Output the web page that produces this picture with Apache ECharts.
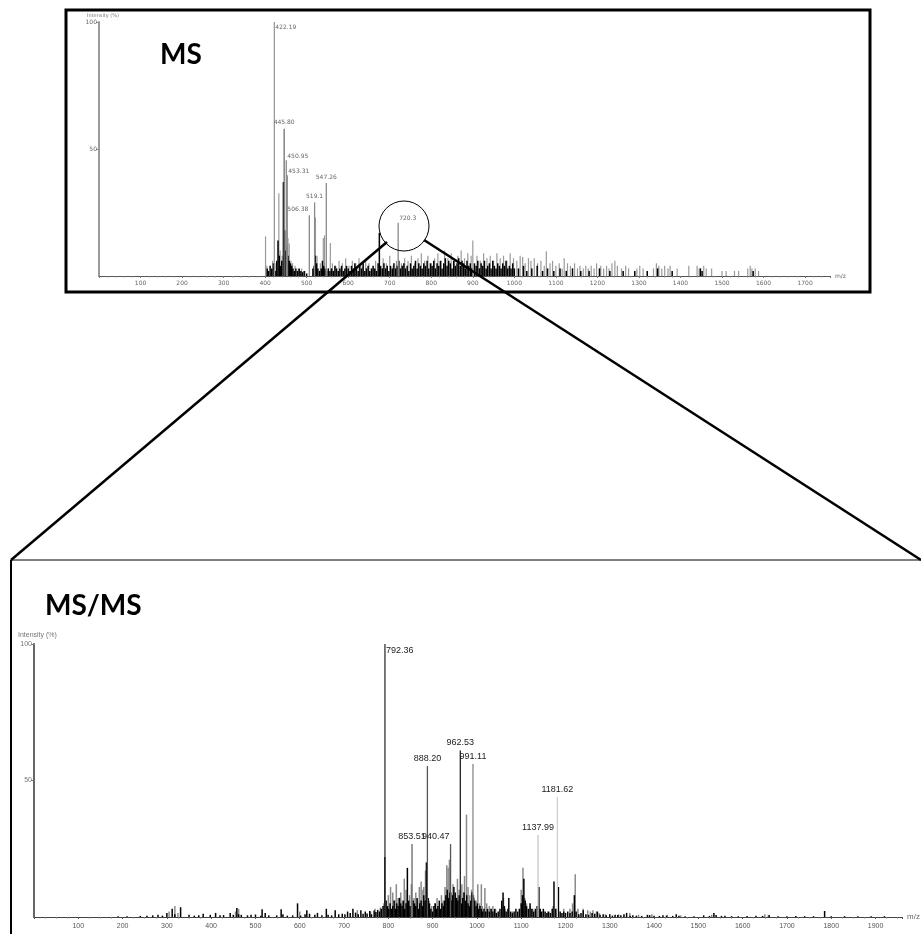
<!DOCTYPE html>
<html><head><meta charset="utf-8">
<script src="https://cdn.jsdelivr.net/npm/echarts@6/dist/echarts.min.js"></script>
<style>html,body{margin:0;padding:0;background:#fff}#c{width:921px;height:934px}</style>
</head><body><div id="c"></div>
<script>
// ---------- MS (top) ----------
const msTicks = [100,200,300,400,500,600,700,800,900,1000,1100,1200,1300,1400,1500,1600,1700];
const msLabelled = [[422.19,100,'422.19'],[445.80,58,'445.80'],[450.95,45.6,'450.95'],[453.31,39.7,'453.31'],[506.38,23.9,'506.38'],[519.1,29,'519.1'],[547.26,36.6,'547.26'],[720.3,21,'720.3']];
const msGrey = [[401,15.6],[404,4],[418,6],[426,5],[433,32.6],[436,10],[441,8],[455,15],[458,12.8],[462,6],[466,5],[472,4],[480,3],[488,3],[496,2],[521,23],[525,8],[533,5],[540,15],[543,16],[557,13],[562,5],[570,4],[578,6],[586,5],[594,7],[602,4],[610,6],[618,5],[626,7],[634,4],[642,6],[650,5],[658,3],[666,6],[684,7],[692,5],[700,8],[708,4],[716,6],[728,5],[736,7],[744,6],[752,8],[760,5],[768,7],[776,9],[784,6],[792,8],[800,5],[808,7],[816,9],[824,6],[832,10],[840,7],[848,9],[856,6],[864,8],[872,10],[880,7],[888,9],[896,8],[900,14],[910,8],[918,6],[926,9],[934,7],[942,8],[950,6],[958,9],[966,7],[974,8],[982,6],[990,9],[998,7],[1006,6],[1014,8],[1020,7.5],[1026,5],[1034,7],[1040,6],[1048,7],[1056,5],[1064,6],[1072,4],[1077,9.7],[1086,5],[1092,6],[1100,4],[1108,5],[1115,3],[1120,7],[1128,5],[1135,4],[1145,5],[1152,3],[1158,4],[1166,3],[1172,4],[1178,3],[1185,4],[1192,3],[1198,5],[1208,4],[1215,3],[1222,4],[1228,3],[1235,5],[1242,6],[1248,4],[1258,3],[1268,4],[1275,3],[1295,3],[1302,4],[1310,3],[1335,3],[1342,5],[1348,4],[1355,3],[1362,4],[1370,3],[1375,4],[1392,3],[1420,4],[1440,4],[1445,3],[1456,4],[1462,3],[1475,3],[1500,2],[1510,2],[1530,2],[1540,2],[1562,3],[1568,4],[1572,3],[1580,3],[1588,2]];
const msBlack = [[405,3],[408,2],[412,4],[416,3],[420,5],[424,2],[428,6],[431,14],[434,8],[437,4],[440,6],[444,37],[447,18],[449,10],[452,12],[455,8],[458,6],[461,5],[464,4],[467,3],[470,2],[474,3],[478,2],[482,3],[486,2],[490,1.5],[494,2],[500,1],[515,3],[518,4],[521,8],[524,5],[527,3],[531,2],[535,3],[538,6],[541,4],[544,3],[548,2],[552,3],[556,2],[560,3],[564,2],[568,4],[572,3],[576,2],[580,3],[584,4],[588,2],[592,3],[596,4],[600,3],[604,2],[608,4],[612,3],[616,5],[620,3],[624,2],[628,4],[632,3],[636,5],[640,2],[644,3],[648,4],[652,2],[656,3],[660,4],[664,3],[668,2],[672,5],[675,17],[678,4],[682,3],[686,5],[690,3],[694,4],[698,2],[702,4],[706,3],[710,5],[714,3],[718,4],[722,6],[726,3],[730,4],[734,5],[738,3],[742,4],[746,2],[750,5],[754,3],[758,4],[762,6],[766,3],[770,5],[774,4],[778,3],[782,5],[786,4],[790,6],[794,3],[798,5],[802,4],[806,6],[810,3],[814,5],[818,4],[822,6],[826,3],[830,5],[834,7],[838,4],[842,6],[846,5],[850,3],[854,6],[858,4],[862,5],[866,7],[870,4],[874,6],[878,5],[882,3],[886,6],[890,4],[894,5],[897,3],[904,5],[908,4],[912,6],[916,3],[920,5],[924,4],[928,6],[932,3],[936,4],[940,5],[944,3],[948,6],[952,4],[956,3],[960,5],[964,4],[968,3],[972,5],[976,4],[980,6],[984,3],[988,4],[992,3],[996,5],[1000,3],[1010,3],[1022,4],[1030,2],[1042,3],[1055,4],[1068,2],[1080,3],[1095,2],[1110,3],[1125,2],[1140,3],[1160,2],[1180,2],[1205,3],[1230,2],[1262,2],[1290,2],[1320,2],[1345,3],[1380,2],[1448,3],[1452,2],[1575,2]];

// ---------- MS/MS (bottom) ----------
const msmsTicks = [100,200,300,400,500,600,700,800,900,1000,1100,1200,1300,1400,1500,1600,1700,1800,1900];
const msmsLabelled = [[792.36,100,'792.36'],[853.51,26.7,'853.51'],[888.20,55.3,'888.20'],[940.47,26.7,'940.47'],[962.53,61,'962.53'],[991.11,56,'991.11'],[1137.99,30,'1137.99'],[1181.62,44,'1181.62']];
const msmsGrey = [[305,2],[318,4],[325,1.5],[455,2],[462,3],[600,2],[730,2.5],[760,2],[770,3],[782,3.5],[790,5],[800,8],[805,11],[810,9],[815,6],[818,12],[822,7],[828,9],[832,6],[836,14],[840,10],[848,8],[852,12],[858,7],[862,9],[866,6],[870,11],[874,13],[878,10],[880,11],[884,17],[892,6],[898,4],[905,5],[910,7],[915,3],[920,8],[924,6],[928,11],[932,19],[935,18],[938,21],[943,9],[946,12],[952,7],[956,14],[960,10],[966,12],[970,9],[972,15],[976.5,37.5],[980,11],[984,8],[988,10],[994,7],[998,6],[1002,12],[1006,5],[1010,12],[1012,4],[1018,10.6],[1022,5],[1028,4],[1032,3],[1036,4],[1042,3],[1056,4],[1060,7],[1064,3],[1080,2],[1096,3],[1100,10],[1104,18],[1108,7],[1112,5],[1120,4],[1126,3],[1132,2],[1142,3],[1150,2],[1160,2],[1172,4],[1180,3],[1196,3],[1210,3],[1216,5],[1222,15.7],[1228,3],[1240,3],[1250,2.5],[1256,2],[1262,2.5],[1270,2],[1276,1.5],[1290,1],[1320,1],[1345,1.5],[1365,0.8],[1395,1],[1430,0.8],[1460,0.6],[1530,0.8],[1650,1],[1658,0.8]];
const msmsBlack = [[190,0.3],[210,0.3],[240,0.4],[255,0.5],[268,0.6],[280,0.8],[290,0.5],[300,1.5],[312,3],[318,1],[331,3.6],[350,0.8],[362,0.5],[372,0.6],[382,1.2],[398,0.8],[410,1.5],[420,0.6],[428,0.7],[443,1.5],[450,0.8],[458,3.3],[462,1],[468,0.8],[482,0.6],[490,0.8],[500,0.9],[512,0.5],[515,2.8],[522,1.5],[530,0.6],[548,0.6],[558,2.8],[562,1],[572,0.5],[584,0.6],[595,5],[602,0.5],[612,1],[616,2.5],[622,1.2],[634,0.8],[640,1.5],[650,0.6],[660,3],[664,0.8],[672,0.6],[680,2.5],[688,1],[696,1.2],[702,1],[708,2],[714,1.5],[720,3],[726,1.6],[732,1],[738,2.5],[743,1.2],[748,2],[752,1.3],[758,2.2],[762,1],[768,2.4],[772,1.8],[776,2.6],[780,2],[784,3],[788,4],[792,22],[795,6],[798,4],[801,3],[804,5],[807,3],[810,4],[813,6],[816,3],[819,5],[822,4],[825,7],[828,5],[831,4],[834,6],[837,3],[840,5],[843,18],[846,6],[849,4],[856,6],[859,5],[862,4],[865,7],[868,3],[871,5],[874,6],[877,4],[880,8],[883,6],[886,20],[890,7],[893,5],[896,3],[900,2],[903,4],[906,5],[909,3],[912,4],[915,6],[918,3],[921,5],[924,4],[927,6],[930,8],[933,10],[936,7],[939,9],[942,6],[945,8],[948,11],[951,9],[954,7],[957,6],[960,8],[965,5],[968,7],[971,9],[974,6],[977,8],[980,5],[983,4],[986,6],[989,9],[992,8],[995,6],[998,4],[1001,5],[1004,3],[1007,4],[1010,3],[1013,2],[1016,3],[1020,2],[1024,3],[1028,2],[1032,3],[1036,2],[1040,3],[1044,1.5],[1048,2],[1052,3],[1056,6],[1059,9],[1062,4],[1066,2],[1070,3],[1072,7],[1076,2],[1080,1.5],[1084,2],[1088,3],[1092,2],[1096,3],[1100,5],[1103,8],[1106,14],[1109,6],[1112,4],[1116,3],[1120,5],[1124,3],[1128,2],[1132,3],[1136,4],[1140,11],[1143,3],[1146,2],[1150,3],[1154,2],[1158,1.5],[1162,2],[1166,1.5],[1170,3],[1174,13],[1178,3],[1182,2],[1184,11],[1188,2],[1192,1.5],[1196,2],[1200,1.5],[1205,2],[1210,1.5],[1215,2],[1220,8],[1224,2],[1230,1],[1235,1.5],[1240,2.5],[1246,1],[1252,0.8],[1260,1.5],[1266,1.2],[1272,2],[1278,0.8],[1285,1],[1292,0.6],[1300,1],[1306,0.5],[1312,0.8],[1318,0.7],[1325,0.6],[1332,1],[1338,1.5],[1346,0.5],[1352,0.6],[1360,0.5],[1372,0.4],[1385,0.8],[1390,0.7],[1400,0.5],[1412,0.4],[1420,0.6],[1428,0.5],[1442,0.4],[1450,1],[1456,0.5],[1470,0.3],[1490,0.3],[1512,0.6],[1525,0.4],[1535,1.5],[1540,0.7],[1552,0.4],[1560,0.5],[1575,0.3],[1590,0.3],[1610,0.4],[1630,0.5],[1645,0.4],[1660,0.6],[1680,0.3],[1700,0.3],[1720,0.4],[1740,0.3],[1760,0.3],[1785,2.2],[1800,0.3],[1830,0.3],[1860,0.3],[1890,0.3],[1920,0.3]];

// ---------- styles (kept apart from data) ----------
const msLabelAlign = ['left','center','left','left','right','center','center','left'];
const msLabelColor = ['#9a9a9a','#707070','#8a8a8a','#8a8a8a','#8a8a8a','#8a8a8a','#8a8a8a','#8a8a8a'];
const msmsLabelAlign = ['left','center','center','right','center','center','center','center'];
const msmsLabelColor = ['#333','#666','#555','#555','#222','#888','#c8c8c8','#d0d0d0'];

const chart = echarts.init(document.getElementById('c'), null, {renderer:'canvas'});

function stickSeries(name, data, xi, color, lw, z) {
  return {
    name, type:'custom', xAxisIndex:xi, yAxisIndex:xi, z: z, silent:true,
    data,
    renderItem(params, api) {
      const x = api.value(0), y = api.value(1);
      const p0 = api.coord([x, 0]), p1 = api.coord([x, y]);
      return {type:'line', shape:{x1:p0[0], y1:p0[1], x2:p1[0], y2:p1[1]}, style:{stroke:color, lineWidth:lw}};
    }
  };
}
function labelSeries(name, data, xi, aligns, colors, fontSize, textColor, fontFamily, lw, z) {
  return {
    name, type:'custom', xAxisIndex:xi, yAxisIndex:xi, z:z, silent:true,
    data: data.map(d => [d[0], d[1]]),
    renderItem(params, api) {
      const i = params.dataIndex;
      const x = api.value(0), y = api.value(1);
      const p0 = api.coord([x, 0]), p1 = api.coord([x, y]);
      const al = aligns[i];
      let tx = p1[0], ty = p1[1] - 3, va = 'bottom';
      if (al === 'left') { tx = p1[0] + 1; ty = p1[1] + (i === 0 ? 2 : -1); va = i === 0 ? 'top' : 'bottom'; }
      if (al === 'right') { tx = p1[0] - 1; }
      return {type:'group', children:[
        {type:'line', shape:{x1:p0[0], y1:p0[1], x2:p1[0], y2:p1[1]}, style:{stroke:colors[i], lineWidth:lw}},
        {type:'text', x:tx, y:ty, style:{text:data[i][2], fill:textColor, font: fontSize + 'px ' + fontFamily, textAlign:al, textVerticalAlign:va}}
      ]};
    }
  };
}

const topFont = '"DejaVu Sans"';
const botFont = '"Liberation Sans"';

chart.setOption({
  animation:false,
  backgroundColor:'#fff',
  grid:[
    {left:99, top:22, width:731, height:254},
    {left:34, top:644, width:869, height:273}
  ],
  xAxis:[
    {gridIndex:0, type:'value', min:0, max:1760, interval:100,
     name:'m/z', nameLocation:'end', nameGap:5, nameTextStyle:{fontSize:6, color:'#666', fontFamily:topFont},
     axisLine:{show:true, lineStyle:{color:'#555', width:1}},
     axisTick:{show:true, length:2, lineStyle:{color:'#777'}},
     minorTick:{show:true, splitNumber:5, length:1.5, lineStyle:{color:'#888'}},
     axisLabel:{fontSize:6, color:'#666', margin:4, fontFamily:topFont, showMinLabel:false, showMaxLabel:false,
       formatter:v => msTicks.indexOf(v) >= 0 ? String(v) : ''},
     splitLine:{show:false}},
    {gridIndex:1, type:'value', min:0, max:1960, interval:100,
     name:'m/z', nameLocation:'end', nameGap:5, nameTextStyle:{fontSize:8, color:'#666', fontFamily:botFont},
     axisLine:{show:true, lineStyle:{color:'#444', width:1}},
     axisTick:{show:true, length:2, lineStyle:{color:'#555'}},
     minorTick:{show:true, splitNumber:4, length:1.5, lineStyle:{color:'#777'}},
     axisLabel:{fontSize:7, color:'#555', margin:6, fontFamily:botFont, showMinLabel:false, showMaxLabel:false,
       formatter:v => msmsTicks.indexOf(v) >= 0 ? String(v) : ''},
     splitLine:{show:false}}
  ],
  yAxis:[
    {gridIndex:0, type:'value', min:0, max:100, interval:50,
     axisLine:{show:true, lineStyle:{color:'#9a9a9a', width:2}},
     axisTick:{show:true, length:3, lineStyle:{color:'#888'}},
     axisLabel:{fontSize:6, color:'#666', margin:2, fontFamily:topFont, showMinLabel:false},
     splitLine:{show:false}},
    {gridIndex:1, type:'value', min:0, max:100, interval:50,
     axisLine:{show:true, lineStyle:{color:'#666', width:2}},
     axisTick:{show:true, length:3, lineStyle:{color:'#777'}},
     axisLabel:{fontSize:7, color:'#777', margin:2, fontFamily:botFont, showMinLabel:false},
     splitLine:{show:false}}
  ],
  series:[
    stickSeries('MS grey', msGrey, 0, '#9a9a9a', 1.2, 2),
    stickSeries('MS black', msBlack, 0, '#000', 1.5, 3),
    labelSeries('MS peaks', msLabelled, 0, msLabelAlign, msLabelColor, 6, '#666', topFont, 1.3, 4),
    stickSeries('MS/MS grey', msmsGrey, 1, '#8a8a8a', 1.5, 2),
    stickSeries('MS/MS black', msmsBlack, 1, '#000', 1.5, 3),
    labelSeries('MS/MS peaks', msmsLabelled, 1, msmsLabelAlign, msmsLabelColor, 9, '#222', botFont, 1.3, 4)
  ],
  graphic:[
    {type:'rect', shape:{x:66, y:10, width:804, height:282}, style:{fill:'none', stroke:'#000', lineWidth:3}, z:100},
    {type:'text', x:87, y:13, style:{text:'Intensity (%)', font:'5px ' + topFont, fill:'#777'}, z:100},
    {type:'text', x:18, y:632, style:{text:'Intensity (%)', font:'7px ' + botFont, fill:'#777'}, z:100},
    {type:'text', x:160, y:41, style:{text:'MS', font:'bold 28px Lato', fill:'#000'}, z:100},
    {type:'text', x:45, y:592, style:{text:'MS/MS', font:'bold 28px Lato', fill:'#000'}, z:100},
    {type:'circle', shape:{cx:404, cy:226, r:25}, style:{fill:'none', stroke:'#000', lineWidth:1}, z:100},
    {type:'line', shape:{x1:387, y1:242, x2:11, y2:560}, style:{stroke:'#000', lineWidth:2.5}, z:100},
    {type:'line', shape:{x1:424, y1:240, x2:921, y2:560}, style:{stroke:'#000', lineWidth:2.5}, z:100},
    {type:'line', shape:{x1:11, y1:560, x2:921, y2:560}, style:{stroke:'#000', lineWidth:1}, z:100},
    {type:'line', shape:{x1:11, y1:560, x2:11, y2:934}, style:{stroke:'#000', lineWidth:2}, z:100}
  ]
});
</script>
</body></html>
